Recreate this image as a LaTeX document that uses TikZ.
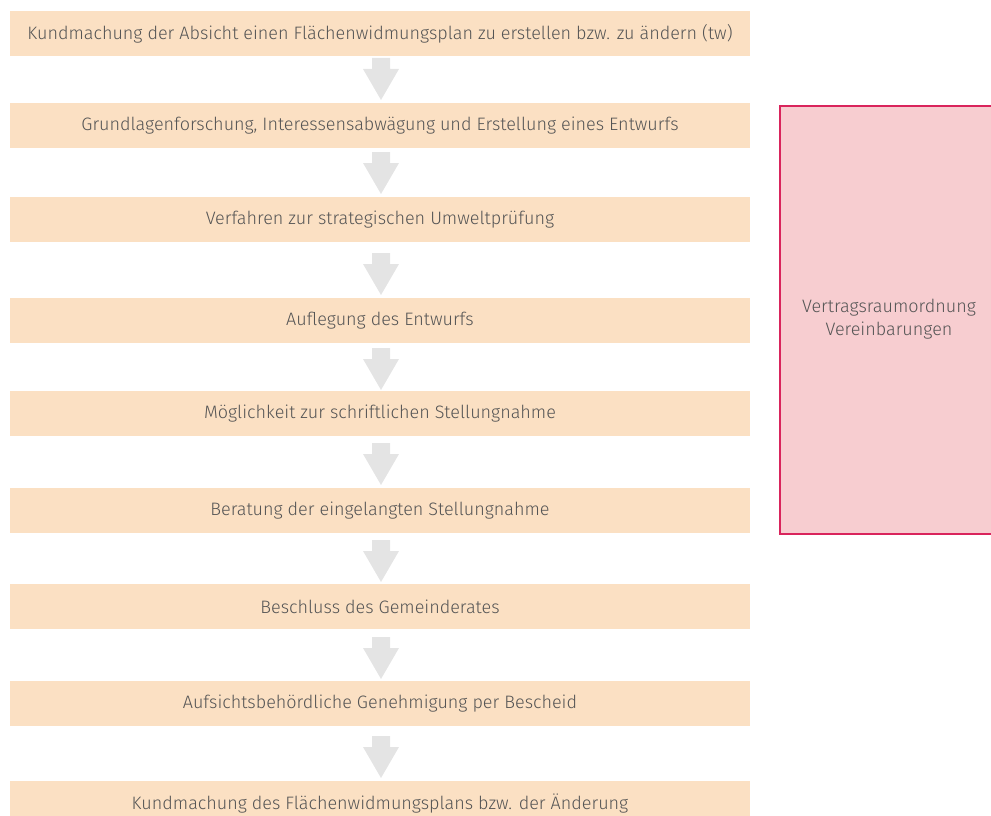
\documentclass[tikz,border=0pt]{standalone}
\usepackage{fontspec}
\setmainfont{Fira Sans}[UprightFont={* Light}]
\definecolor{stepfill}{HTML}{FBE0C3}
\definecolor{txtgray}{HTML}{555555}
\definecolor{arrowgray}{HTML}{E4E4E4}
\definecolor{pinkfill}{HTML}{F7CDD0}
\definecolor{pinkborder}{HTML}{D9245C}
\tikzset{
  stepbox/.style={fill=stepfill, draw=none, minimum width=740pt, minimum height=45pt,
    inner sep=0pt, anchor=north, text=txtgray, font=\fontsize{18}{21}\selectfont},
  downarrow/.style={fill=arrowgray, draw=none},
  sidebox/.style={fill=pinkfill, draw=pinkborder, line width=2.2pt, anchor=north west,
    minimum width=220pt, minimum height=428pt, inner sep=0pt},
  sidetext/.style={text=txtgray, align=center, font=\fontsize{18}{22.5}\selectfont}
}
\newcommand{\blockarrow}[2]{% #1 = top y of arrow, #2 = name
  \fill[downarrow] (372,-#1) -- (390,-#1) -- (390,-#1-11) -- (399,-#1-11)
    -- (381,-#1-42) -- (363,-#1-11) -- (372,-#1-11) -- cycle;
  \coordinate (#2) at (381,-#1);
}
\begin{document}
\begin{tikzpicture}[x=1pt,y=1pt]
\useasboundingbox (0,0) rectangle (991,-816);
\clip (0,0) rectangle (991,-816);
\node[stepbox] (s1) at (380,-11) {Kundmachung der Absicht einen Flächenwidmungsplan zu erstellen bzw. zu ändern (tw)};
\node[stepbox] (s2) at (380,-103) {Grundlagenforschung, Interessensabwägung und Erstellung eines Entwurfs};
\node[stepbox] (s3) at (380,-197) {Verfahren zur strategischen Umweltprüfung};
\node[stepbox] (s4) at (380,-297.5) {Auflegung des Entwurfs};
\node[stepbox] (s5) at (380,-391) {Möglichkeit zur schriftlichen Stellungnahme};
\node[stepbox] (s6) at (380,-487.5) {Beratung der eingelangten Stellungnahme};
\node[stepbox] (s7) at (380,-584) {Beschluss des Gemeinderates};
\node[stepbox] (s8) at (380,-681) {Aufsichtsbehördliche Genehmigung per Bescheid};
\node[stepbox] (s9) at (380,-781) {Kundmachung des Flächenwidmungsplans bzw. der Änderung};
\blockarrow{58}{a1}
\blockarrow{152}{a2}
\blockarrow{253}{a3}
\blockarrow{348}{a4}
\blockarrow{443}{a5}
\blockarrow{540}{a6}
\blockarrow{637}{a7}
\blockarrow{736}{a8}
\node[sidebox] (side) at (779,-105) {};
\node[sidetext] (sidelabel) at (889,-319) {Vertragsraumordnung\\Vereinbarungen};
\end{tikzpicture}
\end{document}
